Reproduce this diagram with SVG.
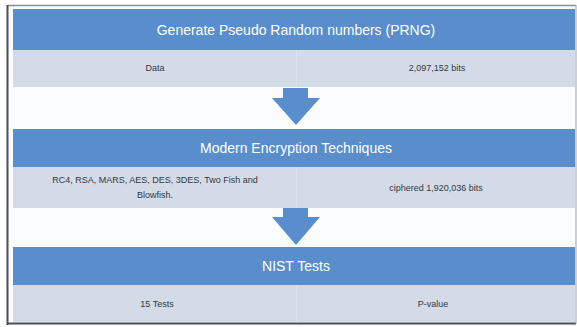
<svg xmlns="http://www.w3.org/2000/svg" width="577" height="327" viewBox="0 0 577 327">
  <style>
    .bar { fill: #5a8dcb; }
    .cell { fill: #d3dbe7; }
    .split { stroke: #dde3ec; stroke-width: 1; }
    .head { font-family: "Liberation Sans", Arial, sans-serif; font-size: 14px; fill: #ffffff; text-anchor: middle; }
    .txt { font-family: "Liberation Sans", Arial, sans-serif; font-size: 9px; fill: #34383f; text-anchor: middle; }
    .arrow { fill: #5a8dcb; }
  </style>

  <!-- page frame -->
  <rect x="0" y="0" width="577" height="327" fill="#ffffff"/>
  <rect x="7" y="5" width="569" height="319" fill="#fbfcfe"/>
  <line x1="7" y1="5.5" x2="576" y2="5.5" stroke="#8a8f96" stroke-width="1.5"/>
  <line x1="7.5" y1="5" x2="7.5" y2="325" stroke="#4a4d52" stroke-width="2"/>
  <line x1="7" y1="323.5" x2="576" y2="323.5" stroke="#4a4d52" stroke-width="2"/>
  <line x1="576" y1="5" x2="576" y2="324" stroke="#9aa0a8" stroke-width="1"/>

  <!-- stage 1 -->
  <g id="prng">
    <rect class="bar" x="13" y="9" width="562" height="41"/>
    <text class="head" x="296" y="34.5">Generate Pseudo Random numbers (PRNG)</text>
  </g>
  <g id="prng-data">
    <rect class="cell" x="13" y="50" width="283" height="37"/>
    <text class="txt" x="155" y="71">Data</text>
  </g>
  <g id="prng-bits">
    <rect class="cell" x="296" y="50" width="279" height="37"/>
    <line class="split" x1="296.5" y1="50" x2="296.5" y2="87"/>
    <text class="txt" x="437" y="71">2,097,152 bits</text>
  </g>

  <!-- stage 2 -->
  <g id="encryption">
    <rect class="bar" x="13" y="129" width="562" height="38"/>
    <text class="head" x="296" y="152.5">Modern Encryption Techniques</text>
  </g>
  <g id="encryption-algorithms">
    <rect class="cell" x="13" y="167" width="283" height="41"/>
    <text class="txt" x="155" y="183">RC4, RSA, MARS, AES, DES, 3DES, Two Fish and</text>
    <text class="txt" x="155" y="198">Blowfish.</text>
  </g>
  <g id="encryption-output">
    <rect class="cell" x="296" y="167" width="279" height="41"/>
    <line class="split" x1="296.5" y1="167" x2="296.5" y2="208"/>
    <text class="txt" x="436" y="191">ciphered 1,920,036 bits</text>
  </g>

  <!-- stage 3 -->
  <g id="nist">
    <rect class="bar" x="13" y="247" width="562" height="38"/>
    <text class="head" x="296" y="271">NIST Tests</text>
  </g>
  <g id="nist-tests">
    <rect class="cell" x="13" y="285" width="283" height="37"/>
    <text class="txt" x="157" y="307">15 Tests</text>
  </g>
  <g id="nist-result">
    <rect class="cell" x="296" y="285" width="279" height="37"/>
    <line class="split" x1="296.5" y1="285" x2="296.5" y2="322"/>
    <text class="txt" x="433" y="307">P-value</text>
  </g>

  <!-- flow arrows between stages -->
  <g id="connectors">
    <polygon class="arrow" points="283,88 308,88 308,98 320,98 296,125 272,98 283,98"/>
    <polygon class="arrow" points="283,208 308,208 308,217 320,217 296,245 272,217 283,217"/>
  </g>
</svg>
